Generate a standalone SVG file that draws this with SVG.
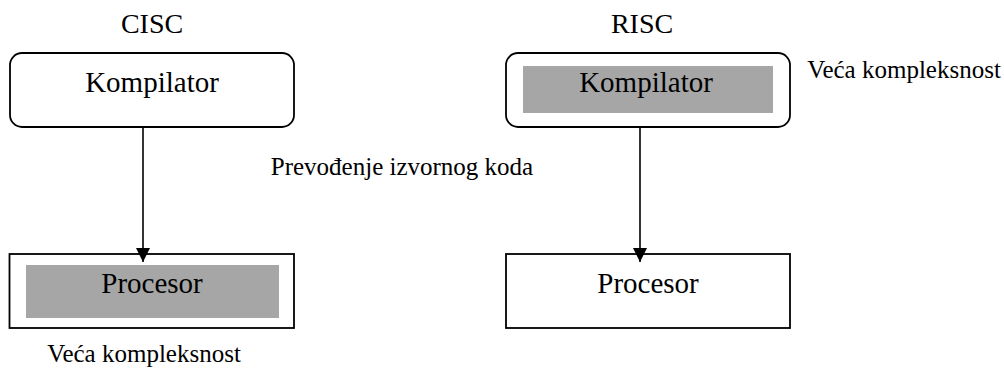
<svg xmlns="http://www.w3.org/2000/svg" width="1004" height="370" viewBox="0 0 1004 370" font-family="'Liberation Serif', serif">
<style>
text{font-family:'Liberation Serif',serif;fill:#000;text-anchor:middle}
.title{font-size:28px}
.lbl{font-size:29px}
.note{font-size:25px}
.box{fill:#fff;stroke:#000;stroke-width:1.8}
.hl{fill:#a6a6a6}
.conn{stroke:#000;stroke-width:1.6;fill:none}
</style>
<defs>
<marker id="arr" markerWidth="14" markerHeight="14" viewBox="0 0 14 14" refX="14" refY="7" orient="auto" markerUnits="userSpaceOnUse">
<path d="M0,0 L14,7 L0,14 Z" fill="#000"/>
</marker>
</defs>
<rect width="1004" height="370" fill="#fff"/>
<text class="title" x="152" y="33">CISC</text>
<text class="title" x="642" y="33">RISC</text>
<g id="cisc-kompilator">
<rect class="box" x="10" y="53" width="284" height="74" rx="12"/>
<text class="lbl" x="152" y="92">Kompilator</text>
</g>
<g id="cisc-procesor">
<rect class="box" x="9.5" y="254" width="284.5" height="74"/>
<rect class="hl" x="26" y="265" width="253" height="53"/>
<text class="lbl" x="152" y="293">Procesor</text>
</g>
<g id="risc-kompilator">
<rect class="box" x="506" y="53" width="284" height="74" rx="12"/>
<rect class="hl" x="523" y="66" width="250" height="47"/>
<text class="lbl" x="646" y="92">Kompilator</text>
</g>
<g id="risc-procesor">
<rect class="box" x="506" y="254" width="284" height="74"/>
<text class="lbl" x="648" y="293">Procesor</text>
</g>
<g id="connectors">
<line class="conn" x1="143" y1="127" x2="143" y2="262" marker-end="url(#arr)"/>
<line class="conn" x1="640" y1="127" x2="640" y2="262" marker-end="url(#arr)"/>
</g>
<text class="note" x="402" y="175">Prevođenje izvornog koda</text>
<text class="note" x="144" y="362">Veća kompleksnost</text>
<text class="note" x="904" y="78">Veća kompleksnost</text>
</svg>
